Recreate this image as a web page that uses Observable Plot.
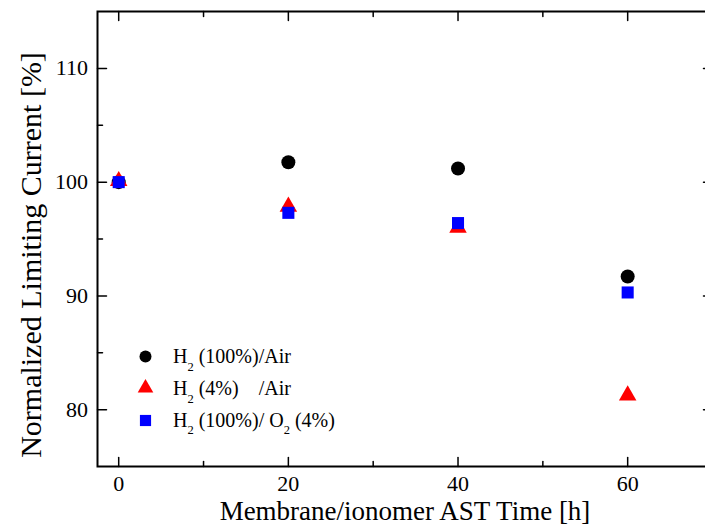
<!DOCTYPE html>
<html><head><meta charset="utf-8">
<script src="https://cdn.jsdelivr.net/npm/d3@7"></script>
<script src="https://cdn.jsdelivr.net/npm/@observablehq/plot@0.6"></script>
<style>
html,body{margin:0;padding:0;background:#fff;overflow:hidden;width:705px;height:529px}
#chart{width:713px;height:529px;overflow:visible}
#chart svg{display:block;max-width:none !important;width:713px !important;height:529px !important}
</style></head><body><div id="chart"></div>
<script>
// Data
const times = [0, 20, 40, 60];                  // Membrane/ionomer AST time [h]
const h2Air = [100.0, 101.75, 101.2, 91.7];     // H2 (100%)/Air
const h2LowAir = [100.1, 97.85, 96.0, 81.25];   // H2 (4%) /Air
const h2O2Low = [100.0, 97.3, 96.4, 90.3];      // H2 (100%)/ O2 (4%)
const seriesLabels = ["H{2} (100%)/Air", "H{2} (4%)    /Air", "H{2} (100%)/ O{2} (4%)"];
const xMajor = [0, 20, 40, 60];
const xMinor = [10, 30, 50];
const yMajor = [80, 90, 100, 110];
const yMinor = [85, 95, 105];
const xTitle = "Membrane/ionomer AST Time [h]";
const yTitle = "Normalized Limiting Current [%]";

const font = "'Liberation Serif', 'Times New Roman', Times, serif";
const tickShape = {draw(ctx, l) { ctx.moveTo(0, 0); ctx.lineTo(0, -l); }};
const tickOpts = {shape: tickShape, anchor: "start", stroke: "black", strokeWidth: 1.5};

const ticks = (vals, axis, frameAnchor, rotate, length) =>
  Plot.vector(vals, {...tickOpts, [axis]: d => d, frameAnchor, rotate, length});

const chart = Plot.plot({
  width: 713, height: 529,
  marginLeft: 97, marginRight: 1, marginTop: 11, marginBottom: 63,
  style: {fontFamily: font, background: "white", color: "black", maxWidth: "none"},
  x: {domain: [-2.5, 70], axis: null},
  y: {domain: [75, 115], axis: null},
  marks: [
    // inward ticks on all four sides
    ticks(xMajor, "x", "bottom", 0, 9),
    ticks(xMinor, "x", "bottom", 0, 5),
    ticks(xMajor, "x", "top", 180, 9),
    ticks(xMinor, "x", "top", 180, 5),
    ticks(yMajor, "y", "left", 90, 9),
    ticks(yMinor, "y", "left", 90, 5),
    ticks(yMajor, "y", "right", 270, 9),
    ticks(yMinor, "y", "right", 270, 5),
    Plot.frame({stroke: "black", strokeWidth: 2}),
    // tick labels
    Plot.text(xMajor, {x: d => d, frameAnchor: "bottom", lineAnchor: "bottom", textAnchor: "middle", dy: 24.5, text: d => String(d), fontSize: 22, fill: "black"}),
    Plot.text(yMajor, {y: d => d, frameAnchor: "left", lineAnchor: "middle", textAnchor: "end", dx: -9.5, text: d => String(d), fontSize: 22, fill: "black"}),
    // axis titles
    Plot.text([xTitle], {frameAnchor: "bottom", lineAnchor: "bottom", textAnchor: "middle", dy: 53, text: d => d, fontSize: 27, fill: "black"}),
    Plot.text([yTitle], {frameAnchor: "left", lineAnchor: "bottom", textAnchor: "middle", dx: -57, dy: 16, rotate: -90, text: d => d, fontSize: 30, fill: "black"}),
    // data
    Plot.dot(times, {x: d => d, y: (d, i) => h2Air[i], r: 7, symbol: "circle", fill: "black", stroke: "none"}),
    Plot.dot(times, {x: d => d, y: (d, i) => h2LowAir[i], r: 6.5, symbol: "triangle", fill: "#ff0000", stroke: "none"}),
    Plot.dot(times, {x: d => d, y: (d, i) => h2O2Low[i], r: 6.8, symbol: "square", fill: "#0000ff", stroke: "none"}),
    // legend symbols
    Plot.dot([0], {frameAnchor: "top-left", dx: 48, dy: 345, r: 6, symbol: "circle", fill: "black"}),
    Plot.dot([0], {frameAnchor: "top-left", dx: 48, dy: 376.5, r: 5.8, symbol: "triangle", fill: "#ff0000"}),
    Plot.dot([0], {frameAnchor: "top-left", dx: 48, dy: 409, r: 6.3, symbol: "square", fill: "#0000ff"}),
    // legend labels (subscripts built below)
    Plot.text(seriesLabels, {frameAnchor: "top-left", textAnchor: "start", lineAnchor: "bottom", text: d => d, fontSize: 20, fill: "black"})
  ]
});
document.getElementById("chart").appendChild(chart);

// position legend rows and build subscripts
const baselines = [363, 395, 426.7];
const legendTexts = d3.select(chart).selectAll("text").filter(function() { return this.textContent.includes("{"); });
legendTexts.each(function(_, i) {
  const el = d3.select(this);
  const raw = seriesLabels[i];
  if (this.parentNode && this.parentNode.removeAttribute) this.parentNode.removeAttribute("transform");
  el.attr("transform", `translate(173,${baselines[i]})`).attr("x", null).attr("y", null).attr("dy", null);
  el.style("white-space", "pre").attr("xml:space", "preserve");
  el.text(null);
  const parts = raw.split(/\{(\d)\}/);
  let shifted = false;
  parts.forEach((p, k) => {
    if (p === "") return;
    const t = el.append("tspan").text(p);
    if (k % 2 === 1) {
      t.attr("font-size", 12.5).attr("dy", 7.5);
      shifted = true;
    } else if (shifted) {
      t.attr("dy", -7.5);
      shifted = false;
    }
  });
});
</script>
</body></html>
